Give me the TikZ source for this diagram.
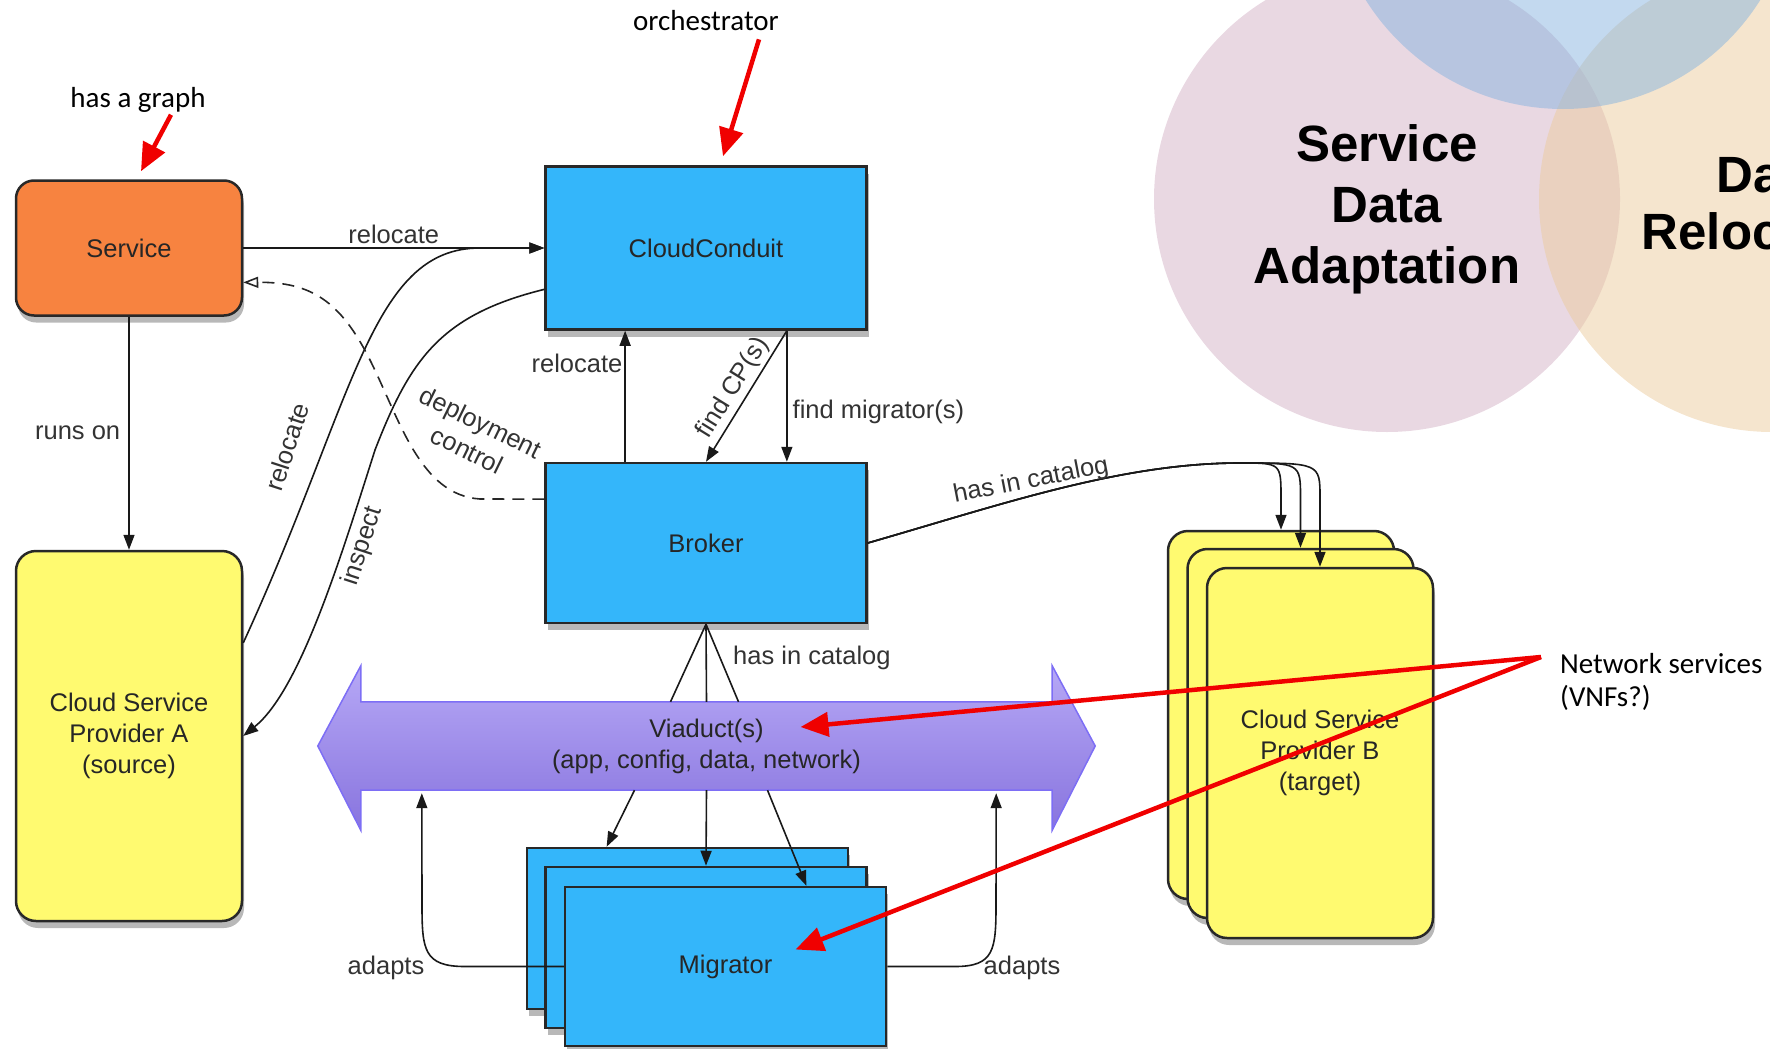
\documentclass[tikz,border=0pt]{standalone}
\usepackage{fontspec}
\setmainfont{Liberation Sans}
\newfontfamily\annofont{Carlito}
\usetikzlibrary{arrows.meta,shadows,calc,backgrounds}
\definecolor{svcorange}{RGB}{247,131,64}
\definecolor{boxblue}{RGB}{52,182,250}
\definecolor{cspyellow}{RGB}{255,250,112}
\definecolor{boxline}{RGB}{40,40,40}
\definecolor{vialight}{RGB}{182,168,246}
\definecolor{viadark}{RGB}{136,116,222}
\definecolor{viaedge}{RGB}{125,110,245}
\definecolor{vennpink}{RGB}{211,177,197}
\definecolor{vennbeige}{RGB}{235,203,157}
\definecolor{vennblue}{RGB}{135,179,223}
\definecolor{annored}{RGB}{240,0,0}
\begin{document}
\begin{tikzpicture}
	[x=1pt, y=-1pt,
	box/.style={draw=boxline, line width=2.5pt, text=black!85, align=center,
		font=\fontsize{25.5}{31}\selectfont,
		drop shadow={shadow xshift=2pt, shadow yshift=-7pt, fill=black, opacity=.28}},
	bluebox/.style={box, fill=boxblue, minimum width=321pt, minimum height=161pt},
	svcbox/.style={box, fill=svcorange, rounded corners=18pt,
		minimum width=226pt, minimum height=135pt},
	cspbox/.style={box, fill=cspyellow, rounded corners=20pt,
		minimum width=226pt, minimum height=370pt},
	viatext/.style={minimum width=691pt, minimum height=88pt, inner sep=0pt,
		align=center, text=black!85, font=\fontsize{25.5}{31}\selectfont},
	lbl/.style={font=\fontsize{25.5}{31}\selectfont, text=black!80, inner sep=2pt},
	anno/.style={font=\annofont\fontsize{29}{33}\selectfont, inner sep=2pt},
	venntext/.style={font=\bfseries\fontsize{51}{61}\selectfont, align=center},
	conn/.style={draw=black!90, line width=1.6pt, -{Triangle[length=15pt,width=11pt]}},
	plainline/.style={draw=black!90, line width=1.6pt},
	dashline/.style={draw=black!85, line width=1.6pt, dash pattern=on 12pt off 8pt,
		-{Triangle[open,length=15pt,width=11pt]}},
	annoarrow/.style={draw=annored, line width=4.5pt, -{Triangle[length=28pt,width=24pt]}}]
	\useasboundingbox (0,0) rectangle (1770,1049);
	\clip (0,0) rectangle (1770,1049);
	\fill[vennpink, fill opacity=.5] (1387,199) circle[radius=233pt];
	\fill[vennbeige, fill opacity=.5] (1772,199) circle[radius=233pt];
	\fill[vennblue, fill opacity=.5] (1563,-124) circle[radius=233pt];
	\node[venntext] (adapt) at (1387,209) {Service\\Data\\Adaptation};
	\node[venntext, font=\bfseries\fontsize{51}{57}\selectfont] (reloc) at (1772,204) {Data\\Relocation};
	\node[svcbox] (service) at (129,248) {Service};
	\node[cspbox] (cspA) at (129,736) {Cloud Service\\Provider A\\(source)};
	\node[bluebox, minimum height=163pt] (cc) at (706,248) {CloudConduit};
	\node[bluebox, minimum height=160pt] (broker) at (706,543) {Broker};
	\node[viatext] (viaduct) at (706.5,746) {Viaduct(s)\\(app, config, data, network)};
	\begin{scope}[on background layer]
		\path[draw=viaedge, line width=1.5pt, top color=vialight, bottom color=viadark]
			([xshift=-43pt]viaduct.west) -- ([yshift=36pt]viaduct.north west)
			-- (viaduct.north west) -- (viaduct.north east)
			-- ([yshift=36pt]viaduct.north east) -- ([xshift=43pt]viaduct.east)
			-- ([yshift=-40pt]viaduct.south east) -- (viaduct.south east)
			-- (viaduct.south west) -- ([yshift=-40pt]viaduct.south west) -- cycle;
	\end{scope}
	\node[bluebox] (migB) at (687.5,928.5) {};
	\node[bluebox] (migM) at (706,947.5) {};
	\node[bluebox, minimum height=159pt] (migF) at (725.5,966.5) {Migrator};
	\node[cspbox, minimum height=368pt] (cspBa) at (1281,715) {};
	\node[cspbox, minimum height=369pt] (cspBb) at (1300.5,733.5) {};
	\node[cspbox] (cspBc) at (1320,753) {Cloud Service\\Provider B\\(target)};
	\draw[conn] (service) -- (cspA) node[lbl, midway, left=6pt] (runson) {runs on};
	\draw[conn] (service) -- (cc) node[lbl, midway, above=1pt] (relocS) {relocate};
	\draw[conn] ($(cspA.north east)!.25!(cspA.south east)$)
		.. controls (355,400) and (370,248) .. (480,248) -- (cc.west);
	\node[lbl, rotate=72] (relocA) at (287,447) {relocate};
	\draw[conn] ($(cc.north west)!.75!(cc.south west)$)
		.. controls (440,315) and (410,360) .. (375,450)
		.. controls (340,560) and (300,690) .. (cspA.east);
	\node[lbl, rotate=72] (inspect) at (363,546) {inspect};
	\draw[dashline] ($(broker.north west)!.23!(broker.south west)$) -- (480,499)
		.. controls (420,495) and (400,420) .. (370,360)
		.. controls (340,300) and (310,282) .. ($(service.north east)!.75!(service.south east)$);
	\node[lbl, rotate=-26, align=center] (deploy) at (474,436) {deployment\\control};
	\draw[conn] ($(broker.north west)!.25!(broker.north east)$) -- ($(cc.south west)!.25!(cc.south east)$)
		node[lbl, pos=.75, left=0pt] (relocB) {relocate};
	\draw[conn] ($(cc.south west)!.75!(cc.south east)$) -- (broker.north)
		node[lbl, midway, sloped, above=1pt] (findcp) {find CP(s)};
	\draw[conn] ($(cc.south west)!.75!(cc.south east)$) -- ($(broker.north west)!.75!(broker.north east)$)
		node[lbl, pos=.62, right=3pt] (findmig) {find migrator(s)};
	\foreach \dx in {-36,0,32}
		\draw[plainline] (broker.south) -- ([xshift=\dx pt]viaduct.north);
	\node[lbl, anchor=west] (catV) at (731,658) {has in catalog};
	\coordinate (cathub) at (1240,463);
	\foreach \b in {cspBa,cspBb,cspBc}
		\draw[conn] (broker.east) .. controls (1000,505) and (1120,463) .. (cathub)
			.. controls (\b.north |- cathub) .. ($(\b.north |- cathub)+(0,35)$) -- (\b.north);
	\node[lbl, rotate=11] (catB) at (1031,481) {has in catalog};
	\draw[conn] ([xshift=-72pt]viaduct.south) -- ($(migB.north west)!.25!(migB.north east)$);
	\draw[conn] (viaduct.south) -- (migM.north);
	\draw[conn] ([xshift=61pt]viaduct.south) -- ($(migF.north west)!.75!(migF.north east)$);
	\draw[conn] (migF.west) -- (465,966.5) .. controls (424,966.5) and (422,950) .. (422,905)
		-- ([xshift=61pt,yshift=-3pt]viaduct.south west);
	\draw[conn] (migF.east) -- (955,966.5) .. controls (994,966.5) and (996,950) .. (996,905)
		-- ([xshift=-56pt,yshift=-3pt]viaduct.south east);
	\node[lbl] (adaptsL) at (386,968) {adapts};
	\node[lbl] (adaptsR) at (1022,968) {adapts};
	\node[anno] (hasgraph) at (138,100) {has a graph};
	\draw[annoarrow] ([xshift=33pt]hasgraph.south) -- ([xshift=12pt, yshift=8pt]service.north);
	\node[anno] (orch) at (706,21) {orchestrator};
	\draw[annoarrow] ([xshift=53pt, yshift=-6pt]orch.south) -- ([xshift=17pt, yshift=9pt]cc.north);
	\node[anno, align=left, anchor=west] (netsvc) at (1558,682) {Network services\\(VNFs?)};
	\coordinate (netsrc) at ([xshift=-17pt, yshift=25pt]netsvc.west);
	\draw[annoarrow] (netsrc) -- ([xshift=94pt, yshift=19pt]viaduct.center);
	\draw[annoarrow] (netsrc) -- ([xshift=70pt, yshift=17pt]migF.center);
\end{tikzpicture}
\end{document}
